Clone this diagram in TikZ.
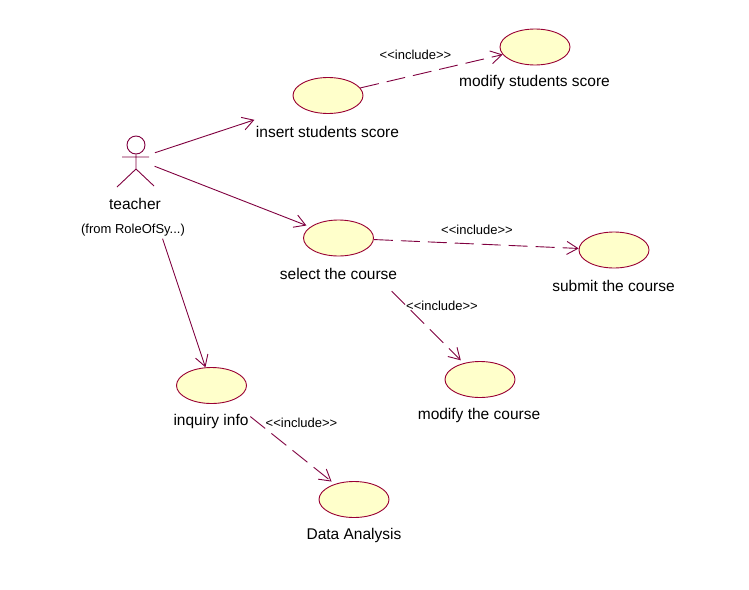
\documentclass[tikz,border=0pt]{standalone}
\usepackage{fontspec}
\setmainfont{Liberation Sans}
\usetikzlibrary{arrows.meta}
\usetikzlibrary{shapes.geometric}
\definecolor{umlline}{RGB}{128,0,64}
\definecolor{umlborder}{RGB}{153,0,51}
\definecolor{umlfill}{RGB}{255,255,203}
\newcommand{\inclabel}{<{}<include>{}>}
\begin{document}
\begin{tikzpicture}[x=1pt,y=-1pt,usecase/.style={ellipse, draw=umlborder, fill=umlfill, line width=0.9pt, minimum width=70pt, minimum height=36pt, inner sep=0pt}]
    \tikzset{caption/.style={font=\fontsize{15.5}{18}\selectfont, inner sep=0pt}}
    \tikzset{stereo/.style={font=\fontsize{13}{15}\selectfont, inner sep=0pt}}
    \tikzset{assoc/.style={draw=umlline, line width=0.9pt, -{Straight Barb[length=11pt,width=13pt,line width=0.9pt]}}}
    \tikzset{incl/.style={assoc, dash pattern=on 19pt off 8pt}}
    \useasboundingbox (0,0) rectangle (749,589);
    \fill[white] (0,0) rectangle (749,589);
    % use cases
    \node[usecase] (insert) at (328,95.5) {};
    \node[usecase] (modifyscore) at (535,47) {};
    \node[usecase] (select) at (338.5,238) {};
    \node[usecase] (submit) at (614,250) {};
    \node[usecase] (modifycourse) at (480,379.5) {};
    \node[usecase] (inquiry) at (211.5,385.5) {};
    \node[usecase] (analysis) at (354,499.5) {};
    \node[caption] (insertl) at (327.5,131.5) {insert students score};
    \node[caption] (modifyscorel) at (534.5,82.5) {modify students score};
    \node[caption] (selectl) at (338.5,273.5) {select the course};
    \node[caption] (submitl) at (613.5,285.5) {submit the course};
    \node[caption] (modifycoursel) at (479,415.5) {modify the course};
    \node[caption] (inquiryl) at (211,421.5) {inquiry info};
    \node[caption] (analysisl) at (354,535.5) {Data Analysis};
    % actor
    \coordinate (teacher) at (136,159);
    \node[circle, draw=umlline, line width=0.9pt, minimum size=18pt, inner sep=0pt] (head) at (136,145) {};
    \coordinate (hip) at (136,169);
    \coordinate (larm) at (122,157);
    \coordinate (rarm) at (149,157);
    \coordinate (lfoot) at (117,187);
    \coordinate (rfoot) at (154,186);
    \draw[umlline, line width=0.9pt] (head) -- (hip) -- (lfoot) (hip) -- (rfoot) (larm) -- (rarm);
    \node[caption] (teacherl) at (135,203.5) {teacher};
    \node[stereo] (fromrole) at (133,230.5) {(from RoleOfSy...)};
    % associations
    \draw[assoc, shorten <=20pt, shorten >=46pt] (teacher) -- (insert);
    \draw[assoc, shorten <=20pt, shorten >=4pt] (teacher) -- (select);
    \draw[assoc, shorten <=84pt] (teacher) -- (inquiry);
    % includes
    \draw[incl] (insert) -- (modifyscore);
    \draw[incl] (select) -- (submit);
    \draw[incl, shorten <=52pt, shorten >=4pt] (select) -- (modifycourse);
    \draw[incl, shorten <=25pt, shorten >=4pt] (inquiry) -- (analysis);
    \node[stereo] (incla) at (415.5,54.5) {\inclabel};
    \node[stereo] (inclb) at (477,229.5) {\inclabel};
    \node[stereo] (inclc) at (442,305.5) {\inclabel};
    \node[stereo] (incld) at (301.5,422.5) {\inclabel};
\end{tikzpicture}
\end{document}
